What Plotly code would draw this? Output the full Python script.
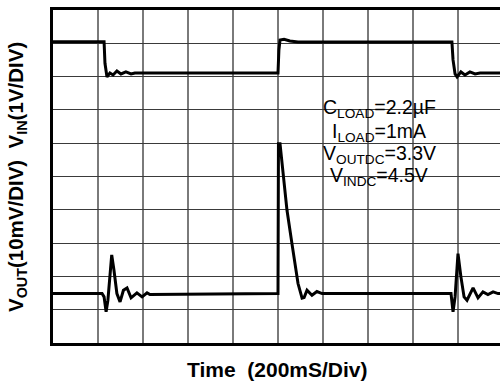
import plotly.graph_objects as go

# Time axis in ms (200 ms/div), Vin in V (1 V/div), Vout AC-coupled deviation in mV (10 mV/div)
vin_t = [0, 227, 231, 236, 240, 253, 267, 284, 302, 324, 347, 364,
         1000, 1004, 1009, 1027, 1053, 1089, 1400, 1773, 1778, 1787, 1796,
         1813, 1831, 1853, 1876, 1898, 1987]
vin_v = [4.55, 4.55, 3.9, 3.58, 3.49, 3.61, 3.55, 3.67, 3.58, 3.64, 3.58, 3.61,
         3.61, 4.3, 4.6, 4.62, 4.57, 4.54, 4.55, 4.54, 4.0, 3.58, 3.49,
         3.64, 3.55, 3.64, 3.58, 3.61, 3.61]

vout_t = [0, 218, 227, 236, 244, 253, 261, 271, 284, 298, 313, 329, 347, 373,
          396, 418, 431, 1000, 1002, 1009, 1040, 1062, 1089, 1107, 1116, 1129,
          1151, 1173, 1196, 1769, 1778, 1787, 1800, 1813, 1827, 1840, 1853,
          1867, 1889, 1911, 1933, 1956, 1978, 1987]
vout_mv = [0, 0, -1, -5.5, -2, 6, 11.6, 7, 0, -2.5, 1, 1.7, -1.3, 0.2,
           -1, 0.2, -0.3, 0, 45, 45, 25, 15, 3, -1.4, -1.2, 1.0,
           -0.5, 0.6, 0, 0, -5.5, -1, 12, 5, -1, -2, 0,
           1.7, -1.3, 0.5, -0.3, 0.5, 0, 0]

notes = ["C<sub>LOAD</sub>=2.2\u00b5F", "I<sub>LOAD</sub>=1mA",
         "V<sub>OUTDC</sub>=3.3V", "V<sub>INDC</sub>=4.5V"]

fig = go.Figure()
fig.add_trace(go.Scatter(x=vin_t, y=vin_v, mode="lines",
                         line=dict(color="black", width=3), yaxis="y"))
fig.add_trace(go.Scatter(x=vout_t, y=vout_mv, mode="lines",
                         line=dict(color="black", width=3), yaxis="y2"))

W, H = 500, 381
L, R, T, B = 53, 0, 10, 38
pw, ph = W - L - R, H - T - B

def px(x):
    return (x - L) / pw

def py(y):
    return (H - B - y) / ph

fig.update_layout(
    width=W, height=H, margin=dict(l=L, r=R, t=T, b=B),
    paper_bgcolor="white", plot_bgcolor="white", showlegend=False,
    xaxis=dict(range=[0, 1986.7], tick0=0, dtick=200, showgrid=True,
               gridcolor="#7a7a7a", gridwidth=1.5, showticklabels=False,
               ticks="", zeroline=False, showline=True, linecolor="black",
               linewidth=3, mirror=True),
    yaxis=dict(range=[-4.5, 5.5], tick0=0.5, dtick=1, showgrid=True,
               gridcolor="#3a3a3a", gridwidth=1.3, showticklabels=False,
               ticks="", zeroline=False, showline=True, linecolor="black",
               linewidth=3),
    yaxis2=dict(range=[-14.85, 85.15], overlaying="y", showgrid=False,
                showticklabels=False, ticks="", zeroline=False, showline=False),
)

fig.add_shape(type="rect", xref="paper", yref="paper",
              x0=px(293), x1=px(463), y0=py(193), y1=py(95),
              fillcolor="white", line=dict(width=0), layer="between")

centers = [109, 132, 154, 176]
for txt, yc in zip(notes, centers):
    fig.add_annotation(text=txt, xref="paper", yref="paper", x=px(379), y=py(yc),
                       xanchor="center", yanchor="middle", showarrow=False,
                       font=dict(family="Liberation Sans, Arial", size=19.5, color="black"))

fig.add_annotation(text="<b>Time\u00a0\u00a0(200mS/Div)</b>", xref="paper", yref="paper",
                   x=px(277), y=py(369), xanchor="center", yanchor="middle",
                   showarrow=False,
                   font=dict(family="Liberation Sans, Arial", size=21, color="black"))

fig.add_annotation(text="<b>V<sub>OUT</sub>(10mV/DIV)\u00a0\u00a0V<sub>IN</sub>(1V/DIV)</b>",
                   xref="paper", yref="paper", x=px(17), y=py(177),
                   xanchor="center", yanchor="middle", textangle=-90,
                   showarrow=False,
                   font=dict(family="Liberation Sans, Arial", size=20.5, color="black"))

fig.write_html("out.html")
